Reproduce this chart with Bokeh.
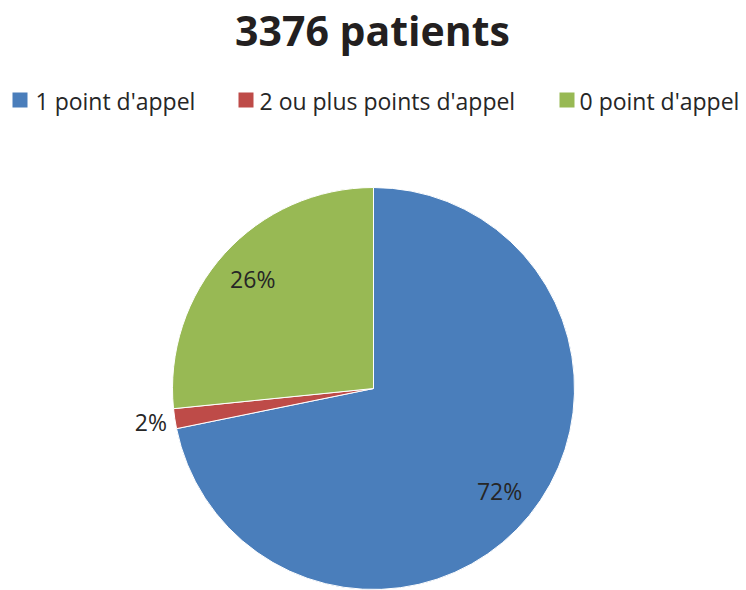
import math
from bokeh.plotting import figure
from bokeh.models import Range1d
from bokeh.core.properties import value
from bokeh.embed import file_html
from bokeh.resources import INLINE

# ---- data ----
title_text = "3376 patients"
categories = ["1 point d'appel", "2 ou plus points d'appel", "0 point d'appel"]
shares = [71.8, 1.6, 26.6]          # percent of the pie
label_texts = ["72%", "2%", "26%"]
colors = ["#4A7EBB", "#BE4B48", "#98B954"]

# ---- layout (pixels) ----
W, H = 746, 590
cx, cy, R = 373, 202, 201
text_color = "#262626"
FONT = value("Open Sans")

p = figure(width=W, height=H, x_range=Range1d(0, W), y_range=Range1d(0, H),
           x_axis_type=None, y_axis_type=None, output_backend="svg",
           toolbar_location=None, min_border=0)
p.grid.visible = False
p.outline_line_color = None
p.background_fill_color = "white"
p.border_fill_color = "white"

total = sum(shares)
starts, ends, lx, ly = [], [], [], []
cum = 0.0
for s in shares:
    f0 = cum / total
    f1 = (cum + s) / total
    starts.append(math.pi / 2 - 2 * math.pi * f0)
    ends.append(math.pi / 2 - 2 * math.pi * f1)
    mid = math.pi / 2 - 2 * math.pi * (f0 + f1) / 2
    rf = 1.12 if s / total < 0.05 else 0.81
    lx.append(cx + rf * R * math.cos(mid))
    ly.append(cy + rf * R * math.sin(mid))
    cum += s

p.wedge(x=[cx] * len(shares), y=[cy] * len(shares), radius=R,
        start_angle=starts, end_angle=ends, direction="clock",
        fill_color=colors, line_color="white", line_width=1)

p.text(x=lx, y=ly, text=label_texts, text_font=FONT, text_font_size="23px",
       text_align="center", text_baseline="middle", text_color=text_color)

# title
p.text(x=[372], y=[561], text=[title_text], text_font=FONT, text_font_size="41px",
       text_font_style="bold", text_align="center", text_baseline="alphabetic",
       text_color="#231F20")

# legend
sq_x = [19.5, 245.5, 566.5]
tx_x = [35, 259, 579]
p.rect(x=sq_x, y=[490.5] * 3, width=15, height=15, fill_color=colors, line_color=None)
p.text(x=tx_x, y=[490] * 3, text=categories, text_font=FONT, text_font_size="23px",
       text_align="left", text_baseline="alphabetic", text_color=text_color)

open("out.html", "w").write(file_html(p, INLINE))
